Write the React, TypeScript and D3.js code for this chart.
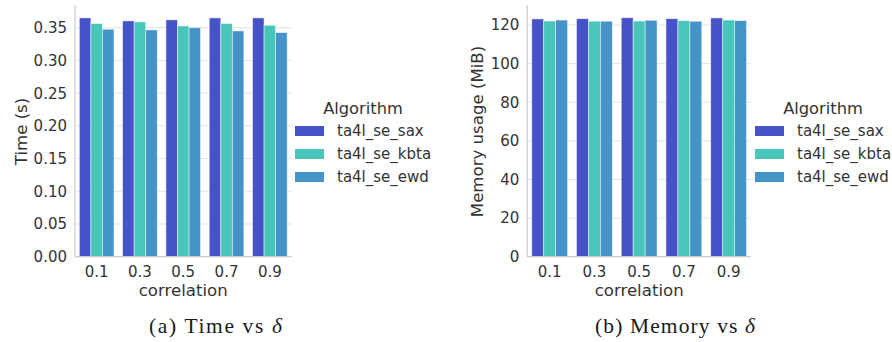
import React from "react";
import * as d3 from "d3";

const categories = ["0.1", "0.3", "0.5", "0.7", "0.9"];
const algorithms = ["ta4l_se_sax", "ta4l_se_kbta", "ta4l_se_ewd"];
const colors = ["#4552c8", "#48c6b9", "#4594c8"];

// Mean runtime (s) per algorithm, one entry per correlation value
const timeSax = [0.365, 0.3604, 0.362, 0.365, 0.365];
const timeKbta = [0.3563, 0.3589, 0.3527, 0.3563, 0.3538];
const timeEwd = [0.3477, 0.3466, 0.35, 0.3451, 0.3425];
const timeTicks = [0, 0.05, 0.1, 0.15, 0.2, 0.25, 0.3, 0.35];

// Memory usage (MiB) per algorithm
const memSax = [123.2, 123.3, 123.8, 123.3, 123.7];
const memKbta = [122.1, 122.0, 122.1, 122.3, 122.6];
const memEwd = [122.6, 122.0, 122.5, 122.0, 122.3];
const memTicks = [0, 20, 40, 60, 80, 100, 120];

const FONT = "DejaVu Sans, sans-serif";
const TEXT = "#333";
const TICK_FS = 15;
const LABEL_FS = 16.6;

type PanelProps = {
  left: number;
  right: number;
  top: number;
  bottom: number;
  yMax: number;
  ticks: number[];
  fmt: (v: number) => string;
  series: number[][];
  yLabel: string;
  yLabelX: number;
  legendX: number;
  caption: string;
  captionX: number;
  captionW: number;
};

function Panel(p: PanelProps) {
  const x0 = d3.scaleBand<string>().domain(categories).range([p.left, p.right]).padding(0);
  const step = x0.bandwidth();
  const xs = d3.scaleBand<string>().domain(algorithms).range([0, step * 0.8]);
  const y = d3.scaleLinear().domain([0, p.yMax]).range([p.bottom, p.top]);
  const midY = 131.5;
  return (
    <g>
      {p.ticks.map((t) => (
        <g key={t}>
          <line x1={p.left} x2={p.right} y1={y(t)} y2={y(t)} stroke="#e3e3e3" strokeWidth={1} />
          <text x={p.left - 8} y={y(t)} dy="0.36em" textAnchor="end" fontSize={TICK_FS} fill={TEXT} fontFamily={FONT}>
            {p.fmt(t)}
          </text>
        </g>
      ))}
      {p.series.map((vals, si) =>
        vals.map((v, ci) => {
          const cx = (x0(categories[ci]) as number) + step * 0.1 + (xs(algorithms[si]) as number);
          return (
            <rect
              key={`${si}-${ci}`}
              x={cx}
              y={y(v)}
              width={xs.bandwidth()}
              height={p.bottom - y(v)}
              fill={colors[si]}
              stroke="rgba(255,255,255,0.6)"
              strokeWidth={0.8}
            />
          );
        })
      )}
      <line x1={p.left} x2={p.left} y1={p.top} y2={p.bottom} stroke="#cccccc" strokeWidth={1.2} />
      <line x1={p.left} x2={p.right} y1={p.bottom} y2={p.bottom} stroke="#cccccc" strokeWidth={1.2} />
      {categories.map((c) => (
        <text
          key={c}
          x={(x0(c) as number) + step / 2}
          y={p.bottom + 15}
          dy="0.36em"
          textAnchor="middle"
          fontSize={TICK_FS}
          fill={TEXT}
          fontFamily={FONT}
        >
          {c}
        </text>
      ))}
      <text x={(p.left + p.right) / 2} y={p.bottom + 33.5} dy="0.36em" textAnchor="middle" fontSize={LABEL_FS} fill={TEXT} fontFamily={FONT}>
        correlation
      </text>
      <text
        transform={`translate(${p.yLabelX},${midY}) rotate(-90)`}
        dy="0.36em"
        textAnchor="middle"
        fontSize={LABEL_FS}
        fill={TEXT}
        fontFamily={FONT}
      >
        {p.yLabel}
      </text>
      <text x={p.legendX + 68} y={108} dy="0.36em" textAnchor="middle" fontSize={16.3} fill={TEXT} fontFamily={FONT}>
        Algorithm
      </text>
      {algorithms.map((a, i) => (
        <g key={a}>
          <rect x={p.legendX} y={131 + i * 23 - 5} width={29} height={10} fill={colors[i]} />
          <text x={p.legendX + 42} y={131 + i * 23} dy="0.36em" fontSize={15} fill={TEXT} fontFamily={FONT}>
            {a}
          </text>
        </g>
      ))}
      <text
        x={p.captionX}
        y={333}
        fontSize={21.5}
        fill="#1a1a1a"
        fontFamily="Liberation Serif, serif"
        textLength={p.captionW}
        lengthAdjust="spacing"
      >
        {p.caption}
        <tspan fontStyle="italic">δ</tspan>
      </text>
    </g>
  );
}

export default function App() {
  return (
    <svg width={892} height={342} style={{ position: "absolute", left: 0, top: 0, background: "#fff" }}>
      <rect width={892} height={342} fill="#fff" />
      <Panel
        left={75}
        right={291.5}
        top={5}
        bottom={256.7}
        yMax={0.3847}
        ticks={timeTicks}
        fmt={(v) => v.toFixed(2)}
        series={[timeSax, timeKbta, timeEwd]}
        yLabel="Time (s)"
        yLabelX={21}
        legendX={295}
        caption="(a) Time vs "
        captionX={149}
        captionW={133}
      />
      <Panel
        left={527.3}
        right={751}
        top={5}
        bottom={256.7}
        yMax={130.4}
        ticks={memTicks}
        fmt={(v) => String(v)}
        series={[memSax, memKbta, memEwd]}
        yLabel="Memory usage (MiB)"
        yLabelX={477}
        legendX={755}
        caption="(b) Memory vs "
        captionX={595}
        captionW={160}
      />
    </svg>
  );
}
